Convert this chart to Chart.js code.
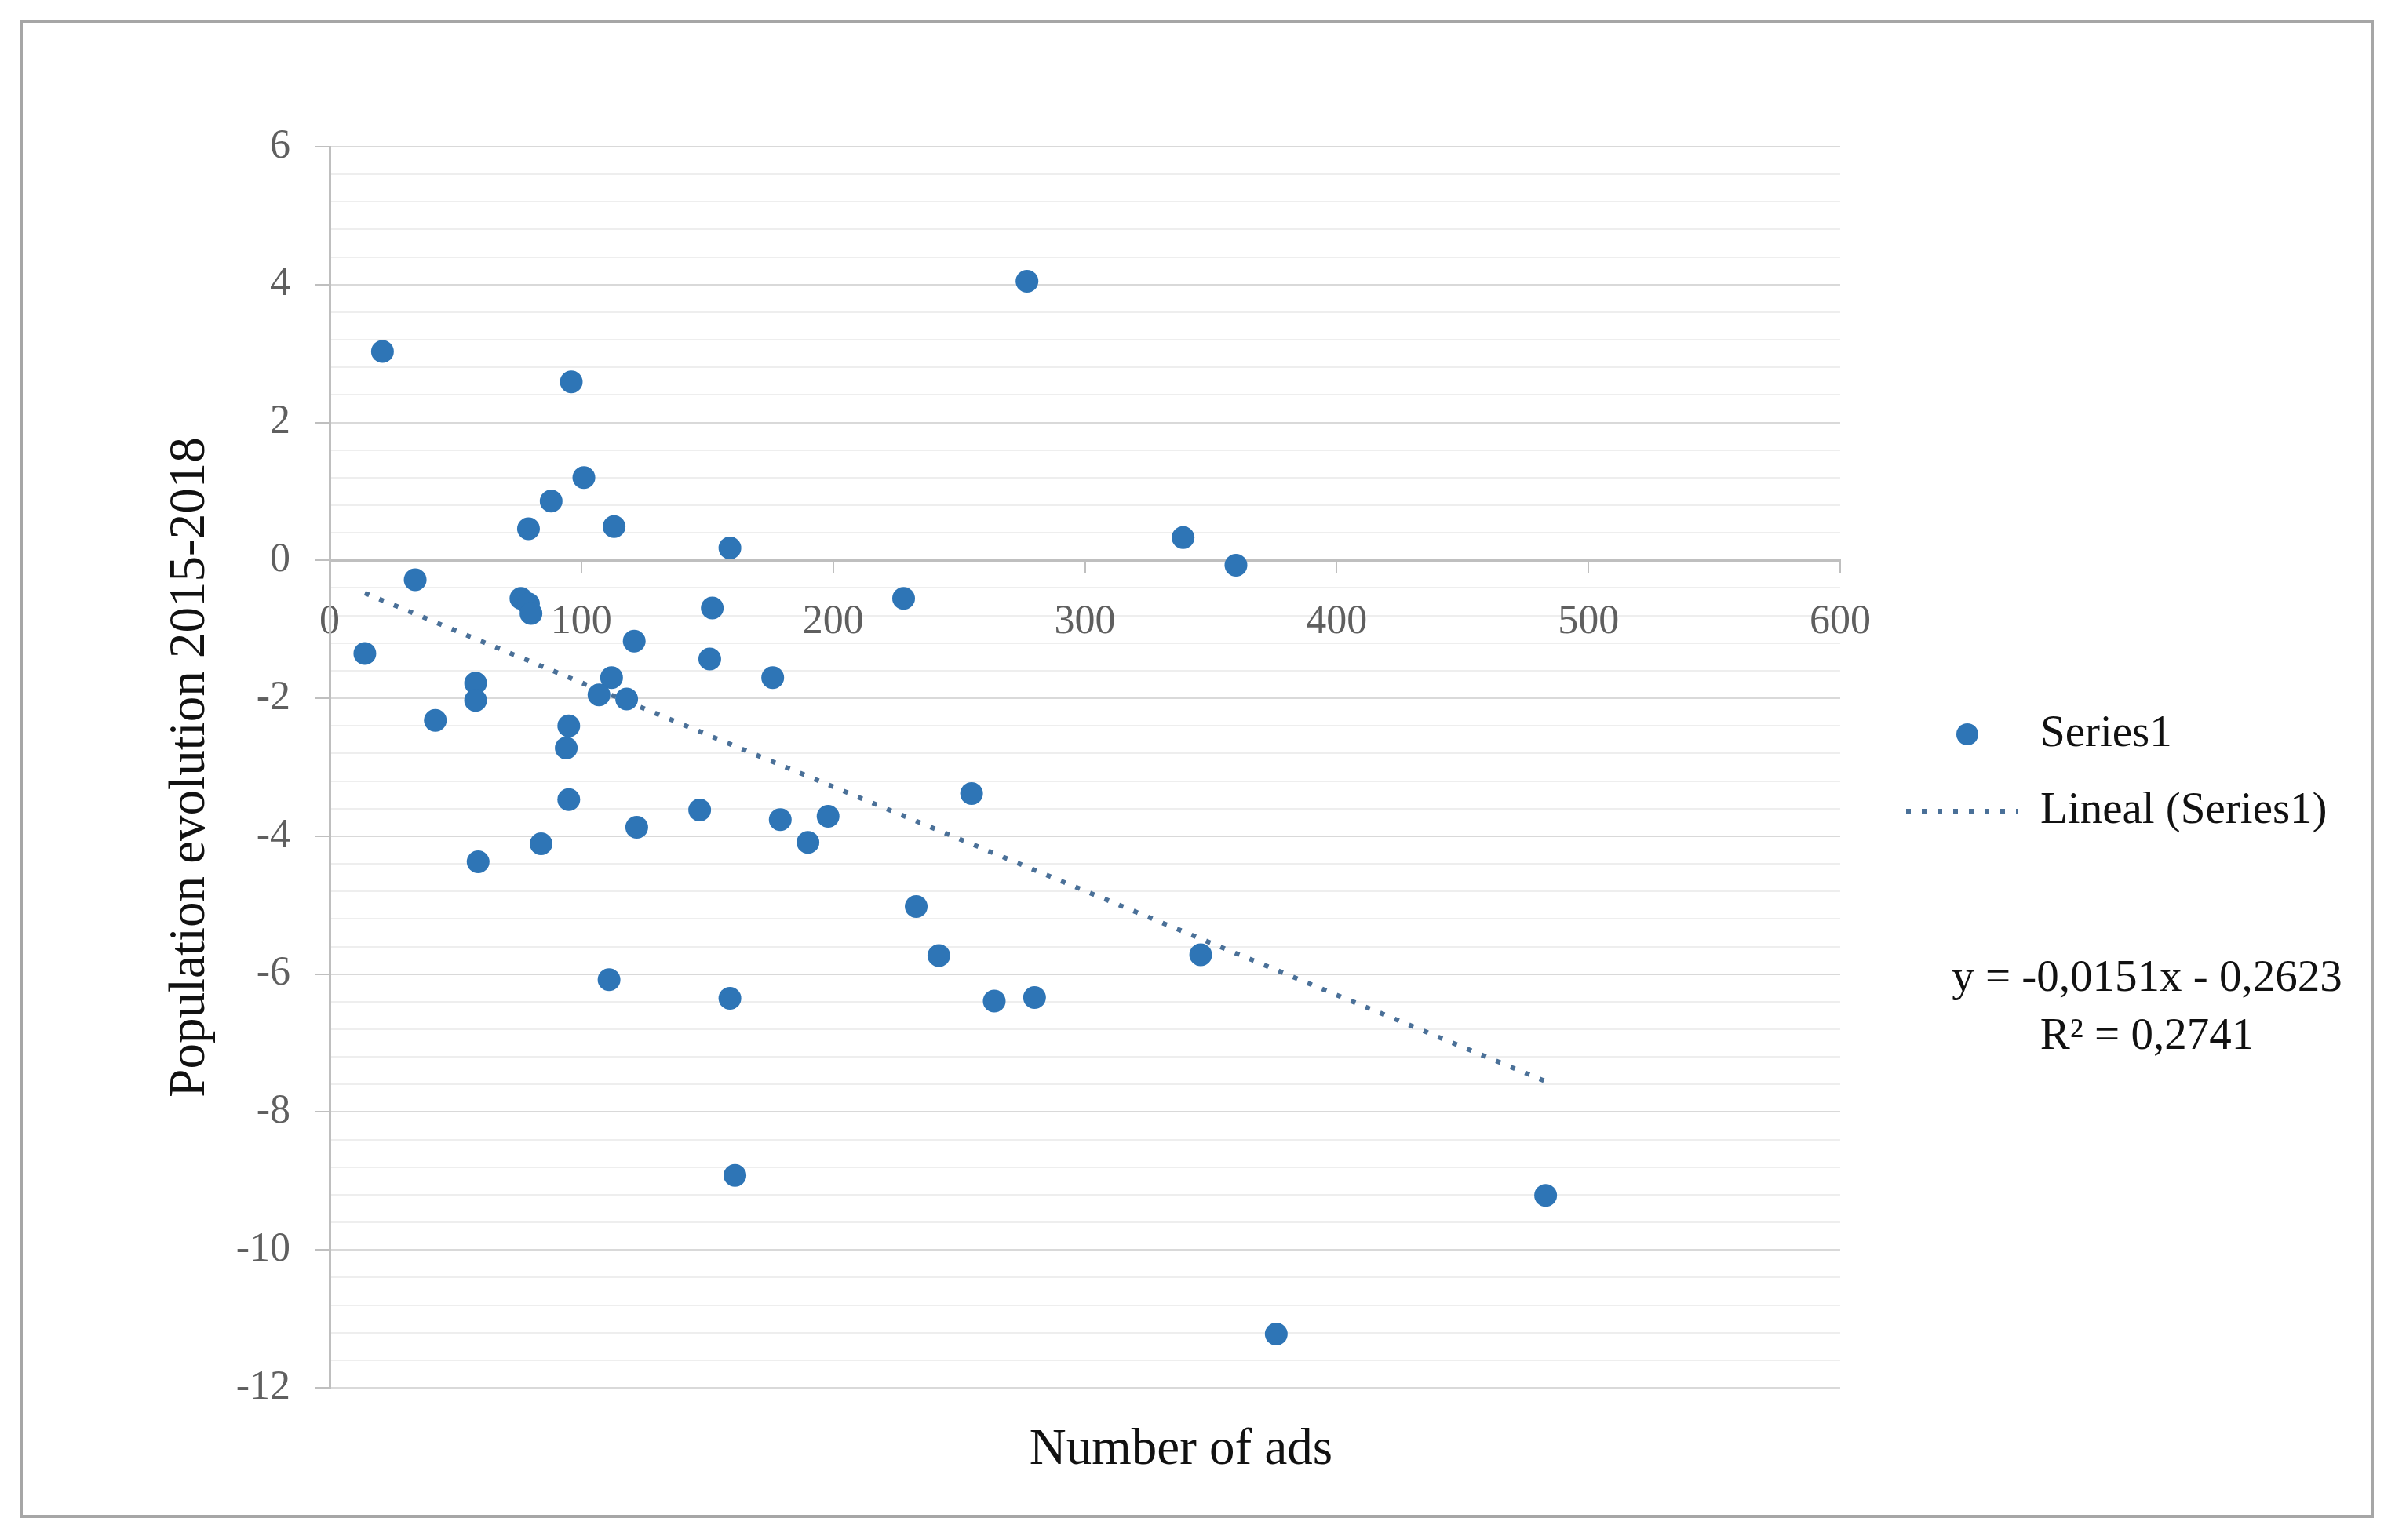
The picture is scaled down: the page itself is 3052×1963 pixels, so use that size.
<!DOCTYPE html>
<html lang="en">
<head>
    <meta charset="UTF-8">
    <title>Population evolution vs number of ads</title>
    <script src="https://cdn.jsdelivr.net/npm/chart.js"></script>
    <style>
        body { margin: 0; background: #fff; }
        #chartBox { position: absolute; left: 25px; top: 25px; width: 2992px; height: 1902px; border: 4px solid #a6a6a6; }
    </style>
</head>
<body>
    <div id="chartBox"><canvas id="myChart"></canvas></div>
    <script>
        // number of ads per municipality (x) and population evolution 2015-2018 (y)
        const adsCount = [21, 96, 277, 101, 88, 79, 113, 159, 339, 360, 34, 76, 79, 80, 228, 152, 14, 121, 151, 112,
                          176, 58, 58, 107, 118, 42, 95, 94, 95, 147, 122, 179, 198, 190, 84, 59, 255, 233, 242, 346,
                          111, 159, 264, 280, 161, 483, 376];
        const popEvolution = [3.03, 2.59, 4.05, 1.20, 0.86, 0.46, 0.49, 0.18, 0.33, -0.07, -0.28, -0.55, -0.63, -0.77, -0.55, -0.69, -1.35, -1.17, -1.43, -1.70,
                              -1.70, -1.78, -2.03, -1.95, -2.01, -2.32, -2.40, -2.72, -3.47, -3.62, -3.87, -3.76, -3.71, -4.09, -4.11, -4.37, -3.38, -5.02, -5.73, -5.72,
                              -6.08, -6.35, -6.39, -6.34, -8.92, -9.21, -11.22];

        // linear trend as printed on the chart
        const trendSlope = -0.0151;
        const trendIntercept = -0.2623;
        const trendLabel = 'y = -0,0151x - 0,2623';
        const r2Label = 'R² = 0,2741';

        const xTicks = [0, 100, 200, 300, 400, 500, 600];
        const yTicks = [6, 4, 2, 0, -2, -4, -6, -8, -10, -12];

        const serif = "'Liberation Serif', serif";
        const dotColor = '#2e75b6';
        const trendColor = '#4a7098';

        const points = adsCount.map((x, i) => ({ x: x, y: popEvolution[i] }));
        const xMin = Math.min(...adsCount), xMax = Math.max(...adsCount);
        const trendPoints = [xMin, xMax].map(x => ({ x: x, y: trendSlope * x + trendIntercept }));

        const isMajor = v => yTicks.some(t => Math.abs(t - v) < 1e-6);

        // legend, trend equation and x title drawn next to the plot area
        const extras = {
            id: 'extras',
            afterDraw(chart) {
                const ctx = chart.ctx;
                const ca = chart.chartArea;
                const midY = (ca.top + ca.bottom) / 2;
                const lx = ca.right + 84;
                ctx.save();
                // legend
                ctx.fillStyle = dotColor;
                ctx.beginPath();
                ctx.arc(lx + 78, midY - 42, 14, 0, Math.PI * 2);
                ctx.fill();
                ctx.strokeStyle = trendColor;
                ctx.lineWidth = 6;
                ctx.setLineDash([6, 14]);
                ctx.beginPath();
                ctx.moveTo(lx, midY + 56);
                ctx.lineTo(lx + 142, midY + 56);
                ctx.stroke();
                ctx.setLineDash([]);
                ctx.fillStyle = '#111';
                ctx.font = '57px ' + serif;
                ctx.textBaseline = 'middle';
                ctx.textAlign = 'left';
                ctx.fillText('Series1', lx + 171, midY - 42);
                ctx.fillText('Lineal (Series1)', lx + 171, midY + 56);
                // equation
                ctx.textAlign = 'center';
                ctx.fillText(trendLabel, ca.right + 391, midY + 270);
                ctx.fillText(r2Label, ca.right + 391, midY + 344);
                // x title
                ctx.font = '65px ' + serif;
                ctx.fillText('Number of ads', ca.left + 0.5636 * (ca.right - ca.left), ca.bottom + 80);
                ctx.restore();
            }
        };

        const ctx = document.getElementById('myChart').getContext('2d');
        const myChart = new Chart(ctx, {
            type: 'scatter',
            data: {
                datasets: [{
                    label: 'Series1',
                    data: points,
                    backgroundColor: dotColor,
                    borderWidth: 0,
                    pointRadius: 14.5,
                    order: 1
                }, {
                    type: 'line',
                    label: 'Lineal (Series1)',
                    data: trendPoints,
                    borderColor: trendColor,
                    borderWidth: 6,
                    borderDash: [6, 14],
                    pointRadius: 0,
                    fill: false,
                    order: 2
                }]
            },
            options: {
                responsive: true,
                maintainAspectRatio: false,
                animation: false,
                layout: { padding: { left: 0, top: 158, right: 676, bottom: 162 } },
                plugins: {
                    legend: { display: false },
                    tooltip: { enabled: false }
                },
                scales: {
                    x: {
                        type: 'linear',
                        min: 0,
                        max: 600,
                        position: { y: 0 },
                        afterBuildTicks: s => { s.ticks = xTicks.map(v => ({ value: v })); },
                        ticks: {
                            font: { family: serif, size: 52 },
                            color: '#5f5f5f',
                            padding: 34
                        },
                        grid: { drawOnChartArea: false, tickLength: 14, color: '#bfbfbf', lineWidth: 2 },
                        border: { color: '#bfbfbf', width: 3 }
                    },
                    y: {
                        min: -12,
                        max: 6,
                        afterFit: s => { s.width = 391; },
                        ticks: {
                            stepSize: 0.4,
                            autoSkip: false,
                            font: { family: serif, size: 52 },
                            color: '#5f5f5f',
                            padding: 32,
                            callback: v => isMajor(v) ? String(Math.round(v)) : ''
                        },
                        grid: {
                            lineWidth: 2,
                            tickLength: 18,
                            color: c => isMajor(c.tick.value) ? '#d9d9d9' : '#eeeeee',
                            tickColor: c => isMajor(c.tick.value) ? '#bfbfbf' : 'rgba(0,0,0,0)'
                        },
                        border: { color: '#bfbfbf', width: 3 },
                        title: {
                            display: true,
                            text: 'Population evolution 2015-2018',
                            font: { family: serif, size: 65 },
                            color: '#111',
                            padding: { top: 175, bottom: 0 }
                        }
                    }
                }
            },
            plugins: [extras]
        });
    </script>
</body>
</html>
